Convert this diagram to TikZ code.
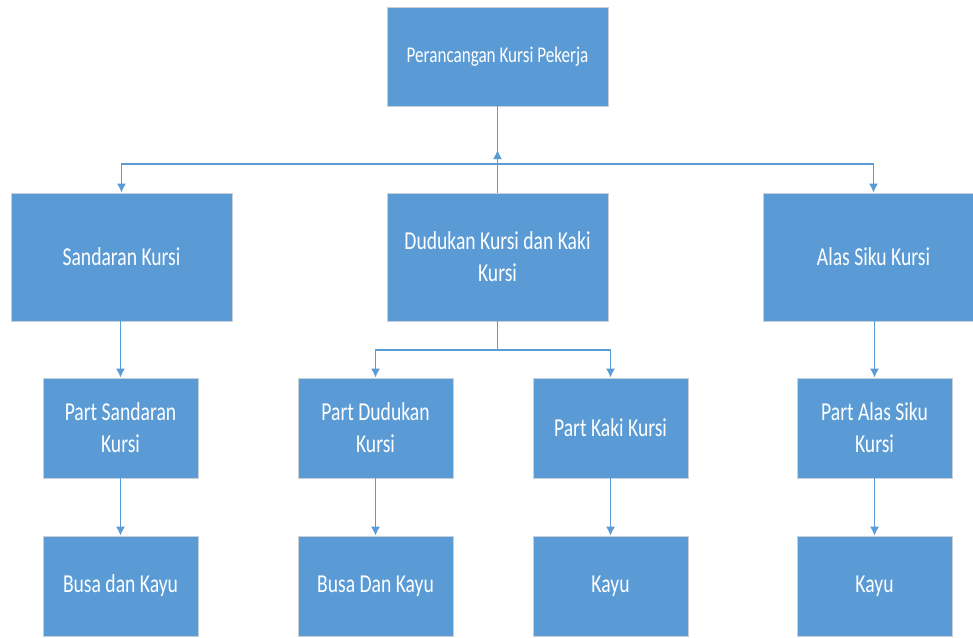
\documentclass[tikz,border=0pt]{standalone}
\usepackage{fontspec}
\setmainfont{Carlito}[FakeStretch=0.76]
\usepackage{xcolor}
\usepackage{tikz}
\usetikzlibrary{arrows.meta}
\definecolor{boxblue}{HTML}{5B9BD5}
\definecolor{boxedge}{HTML}{C9CFD6}

\begin{document}
\begin{tikzpicture}[x=1pt, y=-1pt,
    part/.style={fill=boxblue, draw=boxedge, line width=0.8pt, text=white,
      inner sep=0pt, align=center, font=\fontsize{25.8}{32}\selectfont},
    bigbox/.style={part, minimum width=221pt, minimum height=128pt},
    smallbox/.style={part, minimum width=155pt, minimum height=100pt},
    link/.style={boxblue, line width=1.4pt},
    tip/.style={-{Latex[length=9pt,width=9pt]}}]
    \useasboundingbox (0,0) rectangle (973,637);
    \clip (0,0) rectangle (973,637);

    % top
    \node[part, minimum width=221pt, minimum height=99pt,
      font=\fontsize{22.5}{28}\selectfont] (top) at (497.5,56.5) {Perancangan Kursi Pekerja};

    % second level
    \node[bigbox] (sand) at (121.5,257) {Sandaran Kursi};
    \node[bigbox] (dud)  at (497.5,257) {Dudukan Kursi dan Kaki\\Kursi};
    \node[bigbox] (alas) at (873.5,257) {Alas Siku Kursi};

    % third level
    \node[smallbox] (psand) at (120.5,428) {Part Sandaran\\Kursi};
    \node[smallbox] (pdud)  at (375.5,428) {Part Dudukan\\Kursi};
    \node[smallbox] (pkaki) at (610.5,428) {Part Kaki Kursi};
    \node[smallbox] (palas) at (874.5,428) {Part Alas Siku\\Kursi};

    % material
    \node[smallbox] (msand) at (120.5,586) {Busa dan Kayu};
    \node[smallbox] (mdud)  at (375.5,586) {Busa Dan Kayu};
    \node[smallbox] (mkaki) at (610.5,586) {Kayu};
    \node[smallbox] (malas) at (874.5,586) {Kayu};

    \coordinate (hub) at (497.5,164);
    \coordinate (hubtip) at (497.5,150);
    \coordinate (hubdud) at (497.5,350);

    \draw[link] (dud.north) -- (top.south);
    \draw[link,tip] (dud.north) -- (hubtip);
    \draw[link,tip] (hub) -| (sand.north);
    \draw[link,tip] (hub) -| (alas.north);

    \draw[link] (dud.south) -- (hubdud);
    \draw[link,tip] (hubdud) -| (pdud.north);
    \draw[link,tip] (hubdud) -| (pkaki.north);

    \draw[link,tip] (sand.south -| psand.north) -- (psand.north);
    \draw[link,tip] (alas.south -| palas.north) -- (palas.north);

    \draw[link,tip] (psand.south) -- (msand.north);
    \draw[link,tip] (pdud.south) -- (mdud.north);
    \draw[link,tip] (pkaki.south) -- (mkaki.north);
    \draw[link,tip] (palas.south) -- (malas.north);
\end{tikzpicture}
\end{document}
